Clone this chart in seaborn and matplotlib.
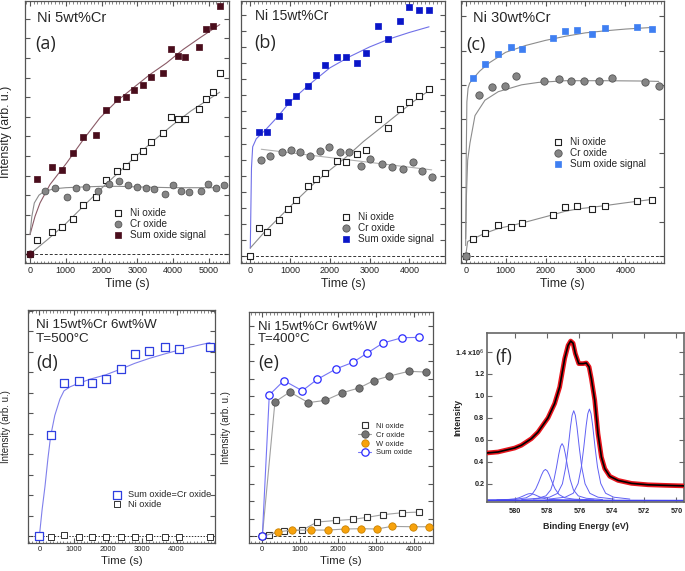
import numpy as np
import pandas as pd
import matplotlib
matplotlib.use("Agg")
import matplotlib.pyplot as plt
from matplotlib.lines import Line2D
from matplotlib.ticker import MultipleLocator, NullFormatter
import seaborn as sns

# ---------------- data (y in arbitrary tick units) ----------------
# (a) Ni 5wt%Cr
a_t = [186, 605, 884, 1209, 1488, 1842, 2121, 2419, 2679, 2902, 3163, 3386, 3702, 3926, 4140, 4344, 4716, 4912, 5116, 5321]
a_sum = [3.83, 4.44, 4.27, 5.14, 5.95, 6.09, 7.36, 7.91, 8.01, 8.37, 8.62, 9.03, 9.22, 10.46, 10.08, 10.07, 10.58, 11.45, 11.62, 12.67]
a_ni_t = [0, 186, 605, 884, 1209, 1488, 1842, 2121, 2419, 2679, 2902, 3163, 3386, 3702, 3926, 4140, 4344, 4716, 4912, 5116, 5321]
a_ni = [0, 0.70, 1.12, 1.38, 1.80, 2.52, 2.89, 3.79, 4.22, 4.51, 4.95, 5.26, 5.70, 6.19, 6.97, 6.90, 6.90, 7.40, 7.91, 8.27, 9.22]
a_cr_t = [419, 698, 1023, 1274, 1553, 1907, 2205, 2493, 2744, 2977, 3237, 3460, 3777, 4000, 4214, 4437, 4772, 4977, 5191, 5414]
a_cr = [3.20, 3.35, 2.89, 3.35, 3.44, 3.23, 3.57, 3.71, 3.54, 3.44, 3.35, 3.32, 3.04, 3.50, 3.23, 3.18, 3.23, 3.57, 3.37, 3.50]
a_origin_t = [0]
a_origin = [0]
a_sum_fit_t = [0, 140, 279, 558, 1023, 1488, 1953, 2419, 2884, 3349, 3814, 4279, 4744, 5302]
a_sum_fit = [0.99, 1.92, 2.60, 3.54, 4.64, 5.83, 6.94, 7.79, 8.47, 9.15, 9.74, 10.43, 11.02, 11.70]
a_ni_fit_t = [0, 500, 1000, 1500, 2000, 2500, 3000, 3500, 4000, 4500, 5300]
a_ni_fit = [0.0, 0.75, 1.55, 2.45, 3.35, 4.2, 5.05, 5.85, 6.6, 7.3, 8.25]
a_cr_fit_t = [0, 50, 120, 250, 400, 700, 1000, 1500, 2000, 2500, 3000, 3500, 4000, 4500, 5300]
a_cr_fit = [1.0, 1.9, 2.6, 3.0, 3.2, 3.33, 3.38, 3.42, 3.45, 3.45, 3.42, 3.4, 3.38, 3.38, 3.38]

# (b) Ni 15wt%Cr
b_t = [209, 418, 711, 937, 1146, 1439, 1657, 1891, 2184, 2418, 2686, 2921, 3213, 3473, 3766, 4000, 4243, 4494]
b_sum = [7.73, 7.71, 8.74, 9.61, 9.98, 10.60, 11.28, 11.90, 12.40, 12.36, 12.00, 12.60, 14.30, 13.51, 14.61, 15.50, 15.31, 15.31]
b_ni_t = [0, 209, 418, 711, 937, 1146, 1439, 1657, 1891, 2184, 2418, 2686, 2921, 3213, 3473, 3766, 4000, 4243, 4494]
b_ni = [0, 1.74, 1.51, 2.23, 2.95, 3.49, 4.38, 4.79, 5.19, 5.91, 5.87, 6.38, 6.59, 8.55, 8.00, 9.15, 9.59, 9.98, 10.37]
b_cr_t = [276, 502, 795, 1021, 1238, 1506, 1741, 1975, 2259, 2494, 2778, 3013, 3314, 3556, 3841, 4084, 4310, 4561]
b_cr = [5.99, 6.24, 6.49, 6.61, 6.47, 6.26, 6.53, 6.76, 6.51, 6.47, 5.64, 6.03, 5.76, 5.54, 5.45, 5.85, 5.31, 4.94]
b_sum_fit_t = [0, 30, 60, 150, 400, 700, 1000, 1500, 2000, 2500, 3000, 3500, 4000, 4494]
b_sum_fit = [0.5, 5.5, 6.8, 7.3, 7.9, 8.7, 9.6, 10.7, 11.7, 12.4, 13.0, 13.5, 13.9, 14.25]
b_ni_fit_t = [0, 335, 753, 1172, 1590, 2008, 2427, 2845, 3264, 3682, 4100, 4494]
b_ni_fit = [0.52, 1.45, 2.48, 3.51, 4.5, 5.37, 6.2, 7.13, 7.95, 8.78, 9.61, 10.29]
b_cr_fit_t = [276, 4561]
b_cr_fit = [6.65, 5.37]

# (c) Ni 30wt%Cr
c_t = [192, 483, 817, 1125, 1417, 2183, 2483, 2792, 3167, 3500, 4300, 4667]
c_sum = [5.20, 5.60, 5.89, 6.11, 6.05, 6.36, 6.57, 6.59, 6.49, 6.67, 6.70, 6.62]
c_ni_t = [0, 192, 483, 817, 1125, 1417, 2183, 2483, 2792, 3167, 3500, 4300, 4667]
c_ni = [0, 0.50, 0.66, 0.89, 0.85, 0.95, 1.20, 1.43, 1.45, 1.36, 1.46, 1.61, 1.64]
c_cr_t = [0, 333, 650, 983, 1258, 1967, 2342, 2625, 2958, 3333, 3667, 4483, 4833]
c_cr = [0, 4.69, 4.93, 4.98, 5.26, 5.10, 5.16, 5.12, 5.12, 5.12, 5.19, 5.09, 4.97]
c_sum_fit_t = [0, 15, 30, 60, 100, 200, 350, 600, 1000, 1500, 2000, 2500, 3000, 3500, 4000, 4700]
c_sum_fit = [0.3, 3.0, 4.5, 4.9, 5.05, 5.2, 5.4, 5.65, 5.95, 6.15, 6.3, 6.42, 6.52, 6.58, 6.63, 6.68]
c_cr_fit_t = [0, 20, 50, 108, 233, 483, 817, 1400, 1817, 2500, 3500, 4500, 4833]
c_cr_fit = [0.5, 1.8, 2.8, 3.3, 4.1, 4.55, 4.8, 5.0, 5.07, 5.12, 5.12, 5.11, 5.1]
c_ni_fit_t = [0, 50, 192, 483, 817, 1125, 1417, 1800, 2183, 2483, 2800, 3167, 3500, 4000, 4667]
c_ni_fit = [0.0, 0.42, 0.5, 0.66, 0.8, 0.88, 0.96, 1.08, 1.2, 1.3, 1.37, 1.42, 1.47, 1.55, 1.65]

# (d) Ni 15wt%Cr 6wt%W, 500 C
d_t = [0, 330, 718, 1146, 1544, 1932, 2379, 2777, 3184, 3650, 4058, 4971]
d_sum = [0, 4.97, 7.50, 7.60, 7.48, 7.66, 8.18, 8.91, 9.06, 9.25, 9.16, 9.24]
d_ni = [0, -0.03, 0.06, -0.02, -0.02, -0.02, -0.02, -0.02, -0.02, -0.02, -0.02, -0.02]
d_fit_t = [0, 80, 165, 250, 330, 450, 600, 718, 900, 1146, 1500, 1932, 2400, 2777, 3200, 3650, 4200, 4700, 4971]
d_fit = [0, 1.3, 2.45, 3.8, 4.9, 5.9, 6.7, 7.1, 7.3, 7.47, 7.68, 7.88, 8.18, 8.44, 8.68, 8.9, 9.15, 9.35, 9.45]

# (e) Ni 15wt%Cr 6wt%W, 400 C
e_sum_t = [0, 184, 570, 1053, 1447, 1956, 2386, 2772, 3184, 3684, 4132]
e_sum = [0, 8.08, 8.90, 8.32, 8.97, 9.58, 9.94, 10.48, 11.05, 11.35, 11.37]
e_cr_t = [0, 333, 728, 1211, 1658, 2114, 2553, 2939, 3351, 3860, 4307]
e_cr = [0, 7.68, 8.25, 7.64, 7.77, 8.21, 8.48, 8.90, 9.16, 9.43, 9.39]
e_ni_t = [0, 167, 570, 1053, 1447, 1956, 2386, 2772, 3184, 3684, 4132]
e_ni = [0, 0.10, 0.29, 0.36, 0.82, 0.91, 0.97, 1.09, 1.24, 1.35, 1.39]
e_w_t = [0, 404, 772, 1272, 1719, 2184, 2614, 3018, 3412, 3974, 4386]
e_w = [0, 0.25, 0.36, 0.36, 0.36, 0.42, 0.44, 0.42, 0.57, 0.55, 0.55]

# (f) Cr 2p XPS spectrum (x1e6 counts)
f_be = [581.71, 581.03, 580.0, 579.59, 578.97, 578.56, 577.94, 577.53, 577.22, 576.91, 576.70, 576.54,
        576.39, 576.25, 576.04, 575.77, 575.57, 575.40, 575.26, 575.05, 574.85, 574.64, 574.43, 574.12,
        573.61, 572.78, 571.75, 570.72, 569.53]
f_int = [0.48, 0.489, 0.525, 0.55, 0.61, 0.67, 0.80, 0.93, 1.08, 1.34, 1.46, 1.50,
         1.48, 1.385, 1.294, 1.294, 1.30, 1.264, 1.157, 0.96, 0.656, 0.443, 0.337, 0.267,
         0.23, 0.203, 0.19, 0.185, 0.18]
f_p1_x = [572.88, 573.88, 574.38, 574.68, 574.88, 575.03, 575.18, 575.28, 575.38, 575.48, 575.58, 575.73, 575.88, 576.08, 576.38, 576.88, 577.88]
f_p1_y = [0.06, 0.077, 0.113, 0.202, 0.352, 0.529, 0.731, 0.838, 0.88, 0.838, 0.731, 0.529, 0.352, 0.202, 0.113, 0.077, 0.06]
f_p2_x = [573.85, 574.85, 575.35, 575.65, 575.85, 576.0, 576.15, 576.25, 576.35, 576.45, 576.55, 576.7, 576.85, 577.05, 577.35, 577.85, 578.85]
f_p2_y = [0.06, 0.077, 0.112, 0.199, 0.347, 0.52, 0.718, 0.823, 0.865, 0.823, 0.718, 0.52, 0.347, 0.199, 0.112, 0.077, 0.06]
f_p3_x = [574.57, 575.57, 576.07, 576.37, 576.57, 576.72, 576.87, 576.97, 577.07, 577.17, 577.27, 577.42, 577.57, 577.77, 578.07, 578.57, 579.57]
f_p3_y = [0.056, 0.067, 0.089, 0.144, 0.237, 0.347, 0.472, 0.539, 0.565, 0.539, 0.472, 0.347, 0.237, 0.144, 0.089, 0.067, 0.056]
f_p4_x = [575.1, 576.3, 576.9, 577.26, 577.5, 577.68, 577.86, 577.98, 578.1, 578.22, 578.34, 578.52, 578.7, 578.94, 579.3, 579.9, 581.1]
f_p4_y = [0.053, 0.059, 0.071, 0.101, 0.152, 0.212, 0.28, 0.316, 0.33, 0.316, 0.28, 0.212, 0.152, 0.101, 0.071, 0.059, 0.053]
f_p5_x = [575.53, 576.93, 577.63, 578.05, 578.33, 578.54, 578.75, 578.89, 579.03, 579.17, 579.31, 579.52, 579.73, 580.01, 580.43, 581.13, 581.71]
f_p5_y = [0.051, 0.052, 0.055, 0.061, 0.072, 0.085, 0.099, 0.107, 0.11, 0.107, 0.099, 0.085, 0.072, 0.061, 0.055, 0.052, 0.051]
f_base_x = [581.71, 569.53]
f_base_y = [0.048, 0.045]
f_yticks = [0.2, 0.4, 0.6, 0.8, 1.0, 1.2, 1.4]
f_ylabels = ["0.2", "0.4", "0.6", "0.8", "1.0", "1.2", "1.4 x10$^{6}$"]
f_xticks = [580, 578, 576, 574, 572, 570]

time_ticks_a = [0, 1000, 2000, 3000, 4000, 5000]
time_ticks = [0, 1000, 2000, 3000, 4000]

# ---------------- style ----------------
sns.set_style("ticks")
plt.rcParams['font.family'] = ['Liberation Sans', 'DejaVu Sans']
plt.rcParams['axes.facecolor'] = 'white'

LETTER_FONT = ['Open Sans', 'DejaVu Sans']
GRAY_FIT = '#8c8c8c'


def setup_time_axes(ax, xlim, ylim, xticks, ytop, tick_fs, label_fs, dash):
    ax.set_xlim(xlim)
    ax.set_ylim(ylim)
    ax.set_xticks(xticks)
    ax.xaxis.set_minor_locator(MultipleLocator(100))
    ax.set_yticks(range(0, ytop + 1))
    ax.yaxis.set_major_formatter(NullFormatter())
    ax.tick_params(which='both', direction='in', top=True, right=True, color='#555555')
    ax.tick_params(which='major', length=3.5, width=0.8, labelsize=tick_fs, pad=2.5, labelcolor='#222222')
    ax.tick_params(which='minor', length=1.8, width=0.5)
    for sp in ax.spines.values():
        sp.set_color('#555555')
        sp.set_linewidth(0.9)
    ax.axhline(0, color='#333333', lw=0.7, ls=dash, zorder=1)
    ax.set_xlabel('Time (s)', fontsize=label_fs, labelpad=1.5)
    ax.set_ylabel('')


def pts(ax, x, y, marker, s, face, edge, lw=0.8, z=3):
    sns.scatterplot(x=x, y=y, ax=ax, marker=marker, s=s, color=face, edgecolor=edge,
                    linewidth=lw, zorder=z, legend=False)
    return ax.collections[-1]


def fit(ax, x, y, color, lw=0.8):
    sns.lineplot(x=x, y=y, ax=ax, color=color, linewidth=lw, zorder=2, legend=False, errorbar=None)


def add_legend(ax, handles, labels, anchor, fs, hl=1.2, pad=0.6, spacing=0.1):
    ax.legend(handles, labels, loc='upper left', bbox_to_anchor=anchor, frameon=False,
              fontsize=fs, handlelength=hl, handletextpad=pad, labelspacing=spacing,
              borderpad=0, borderaxespad=0, scatterpoints=1)


fig = plt.figure(figsize=(6.85, 5.71), dpi=100)

# ---------------- (a) ----------------
ax = fig.add_axes([0.0365, 0.5394, 0.2978, 0.4588])
fit(ax, a_sum_fit_t, a_sum_fit, '#8a5a66')
fit(ax, a_ni_fit_t, a_ni_fit, GRAY_FIT)
fit(ax, a_cr_fit_t, a_cr_fit, GRAY_FIT)
h_ni = pts(ax, a_ni_t, a_ni, 's', 19, 'white', '#222222')
h_cr = pts(ax, a_cr_t, a_cr, 'o', 24, '#858585', '#555555', 0.6)
h_sum = pts(ax, a_t, a_sum, 's', 19, '#4a0d1c', '#4a0d1c', 0.5)
pts(ax, a_origin_t, a_origin, 'o', 26, '#4a0d1c', '#4a0d1c', 0.5, z=4)
setup_time_axes(ax, (-140, 5560), (-0.46, 12.9), time_ticks_a, 12, 6.5, 8.8, (0, (3, 2)))
ax.set_ylabel('Intensity (arb. u.)', fontsize=8.8)
ax.yaxis.set_label_coords(-0.062, 0.5)
ax.text(0.059, 0.935, 'Ni 5wt%Cr', transform=ax.transAxes, fontsize=10.5, va='center', ha='left')
ax.text(0.049, 0.836, '(a)', transform=ax.transAxes, fontsize=13, va='center', ha='left', family=LETTER_FONT)
add_legend(ax, [h_ni, h_cr, h_sum], ['Ni oxide', 'Cr oxide', 'Sum oxide signal'], (0.426, 0.21), 7.2)

# ---------------- (b) ----------------
ax = fig.add_axes([0.3518, 0.5394, 0.2978, 0.4588])
fit(ax, b_sum_fit_t, b_sum_fit, '#7070e8')
fit(ax, b_ni_fit_t, b_ni_fit, GRAY_FIT)
fit(ax, b_cr_fit_t, b_cr_fit, '#b0b0b0')
h_ni = pts(ax, b_ni_t, b_ni, 's', 20, 'white', '#222222')
h_cr = pts(ax, b_cr_t, b_cr, 'o', 27, '#858585', '#555555', 0.6)
h_sum = pts(ax, b_t, b_sum, 's', 20, '#0a16c8', '#0a16c8', 0.5)
setup_time_axes(ax, (-234, 4895), (-0.41, 15.85), time_ticks, 15, 6.5, 8.8, (0, (3, 2)))
ax.text(0.069, 0.943, 'Ni 15wt%Cr', transform=ax.transAxes, fontsize=10, va='center', ha='left')
ax.text(0.064, 0.839, '(b)', transform=ax.transAxes, fontsize=13, va='center', ha='left', family=LETTER_FONT)
add_legend(ax, [h_ni, h_cr, h_sum], ['Ni oxide', 'Cr oxide', 'Sum oxide signal'], (0.485, 0.195), 7.2)

# ---------------- (c) ----------------
ax = fig.add_axes([0.673, 0.5394, 0.2964, 0.4588])
fit(ax, c_sum_fit_t, c_sum_fit, GRAY_FIT)
fit(ax, c_cr_fit_t, c_cr_fit, GRAY_FIT)
fit(ax, c_ni_fit_t, c_ni_fit, GRAY_FIT)
h_ni = pts(ax, c_ni_t, c_ni, 's', 23, 'white', '#222222')
h_cr = pts(ax, c_cr_t, c_cr, 'o', 28, '#858585', '#555555', 0.6)
h_sum = pts(ax, c_t, c_sum, 's', 23, '#3f7ff2', '#3f7ff2', 0.5)
setup_time_axes(ax, (-117, 4967), (-0.21, 7.45), time_ticks, 7, 6.5, 8.8, (0, (3, 2)))
ax.text(0.061, 0.934, 'Ni 30wt%Cr', transform=ax.transAxes, fontsize=10.5, va='center', ha='left')
ax.text(0.028, 0.832, '(c)', transform=ax.transAxes, fontsize=13, va='center', ha='left', family=LETTER_FONT)
add_legend(ax, [h_ni, h_cr, h_sum], ['Ni oxide', 'Cr oxide', 'Sum oxide signal'], (0.447, 0.481), 7.2)

# ---------------- (d) ----------------
ax = fig.add_axes([0.0404, 0.049, 0.2734, 0.408])
fit(ax, d_fit_t, d_fit, '#8080ec')
h_ni = pts(ax, d_t, d_ni, 's', 13, 'white', '#333333', 0.7)
h_sum = pts(ax, d_t, d_sum, 's', 28, 'white', '#2f3fe0', 0.9)
setup_time_axes(ax, (-340, 5117), (-0.32, 11.04), time_ticks, 11, 5.5, 8.2, (0, (1.5, 1.5)))
ax.set_ylabel('Intensity (arb. u.)', fontsize=7)
ax.yaxis.set_label_coords(-0.088, 0.5)
ax.text(0.044, 0.936, 'Ni 15wt%Cr 6wt%W', transform=ax.transAxes, fontsize=9.7, va='center', ha='left')
ax.text(0.044, 0.876, 'T=500°C', transform=ax.transAxes, fontsize=9.7, va='center', ha='left')
ax.text(0.044, 0.773, '(d)', transform=ax.transAxes, fontsize=13, va='center', ha='left', family=LETTER_FONT)
add_legend(ax, [h_sum, h_ni], ['Sum oxide=Cr oxide', 'Ni oxide'], (0.452, 0.227), 6.6, hl=1.0, pad=0.66, spacing=0.05)

# ---------------- (e) ----------------
ax = fig.add_axes([0.3635, 0.049, 0.2686, 0.4046])
sns.lineplot(x=e_ni_t, y=e_ni, ax=ax, color='#a0a0a0', linewidth=0.8, marker='s', markersize=4.3,
             markerfacecolor='white', markeredgecolor='#333333', markeredgewidth=0.8, zorder=3,
             legend=False, errorbar=None)
sns.lineplot(x=e_w_t, y=e_w, ax=ax, color='#a0a0a0', linewidth=0.8, marker='o', markersize=5.3,
             markerfacecolor='#f7a20c', markeredgecolor='#c98200', markeredgewidth=0.6, zorder=3,
             legend=False, errorbar=None)
sns.lineplot(x=e_cr_t, y=e_cr, ax=ax, color='#a0a0a0', linewidth=0.8, marker='o', markersize=5.3,
             markerfacecolor='#747474', markeredgecolor='#505050', markeredgewidth=0.6, zorder=3,
             legend=False, errorbar=None)
sns.lineplot(x=e_sum_t, y=e_sum, ax=ax, color='#7575f5', linewidth=0.8, marker='o', markersize=5.3,
             markerfacecolor='white', markeredgecolor='#2a2aff', markeredgewidth=0.9, zorder=4,
             legend=False, errorbar=None)
setup_time_axes(ax, (-351, 4500), (-0.38, 12.82), time_ticks, 12, 5.5, 8.2, (0, (3, 2)))
ax.set_ylabel('Intensity (arb. u.)', fontsize=7)
ax.yaxis.set_label_coords(-0.098, 0.5)
ax.text(0.049, 0.935, 'Ni 15wt%Cr 6wt%W', transform=ax.transAxes, fontsize=9.5, va='center', ha='left')
ax.text(0.049, 0.883, 'T=400°C', transform=ax.transAxes, fontsize=9.5, va='center', ha='left')
ax.text(0.049, 0.779, '(e)', transform=ax.transAxes, fontsize=13, va='center', ha='left', family=LETTER_FONT)
hs = [Line2D([], [], ls='none', marker='s', ms=4.3, mfc='white', mec='#333333', mew=0.8),
      Line2D([], [], color='#a0a0a0', lw=0.8, marker='o', ms=5.3, mfc='#747474', mec='#505050', mew=0.6),
      Line2D([], [], ls='none', marker='o', ms=5.3, mfc='#f7a20c', mec='#c98200', mew=0.6),
      Line2D([], [], color='#7575f5', lw=0.8, marker='o', ms=5.3, mfc='white', mec='#2a2aff', mew=0.9)]
add_legend(ax, hs, ['Ni oxide', 'Cr oxide', 'W oxide', 'Sum oxide'], (0.595, 0.522), 5.5, hl=1.7, pad=0.6, spacing=0.2)

# ---------------- (f) ----------------
ax = fig.add_axes([0.711, 0.1208, 0.2876, 0.296])
for px, py in [(f_p5_x, f_p5_y), (f_p4_x, f_p4_y), (f_p3_x, f_p3_y), (f_p2_x, f_p2_y), (f_p1_x, f_p1_y)]:
    sns.lineplot(x=px, y=py, ax=ax, color='#6060f4', linewidth=0.7, zorder=2, legend=False, errorbar=None)
sns.lineplot(x=f_base_x, y=f_base_y, ax=ax, color='#4040f0', linewidth=1.3, zorder=2, legend=False, errorbar=None)
sns.lineplot(x=f_be, y=f_int, ax=ax, color='#e8141c', linewidth=3.4, zorder=3, legend=False, errorbar=None)
sns.lineplot(x=f_be, y=f_int, ax=ax, color='black', linewidth=1.2, zorder=4, legend=False, errorbar=None)
ax.set_xlim(581.71, 569.53)
ax.set_ylim(0.033, 1.573)
ax.set_xticks(f_xticks)
ax.set_xticklabels([str(v) for v in f_xticks], fontweight='bold')
ax.set_yticks(f_yticks)
ax.set_yticklabels(f_ylabels, fontweight='bold')
ax.tick_params(which='both', direction='in', top=True, right=True, color='#666666',
               length=3.5, width=0.8, labelsize=5.2, labelcolor='#222222')
ax.tick_params(axis='x', pad=4)
ax.tick_params(axis='y', pad=2)
for sp in ax.spines.values():
    sp.set_color('#666666')
    sp.set_linewidth(1.2)
ax.set_xlabel('Binding Energy (eV)', fontsize=6.4, fontweight='bold', labelpad=5)
ax.set_ylabel('Intensity', fontsize=6.4, fontweight='bold')
ax.yaxis.set_label_coords(-0.125, 0.5)
ax.text(0.041, 0.856, '(f)', transform=ax.transAxes, fontsize=13, va='center', ha='left', family=LETTER_FONT)

fig.savefig('out.png', dpi=100)
